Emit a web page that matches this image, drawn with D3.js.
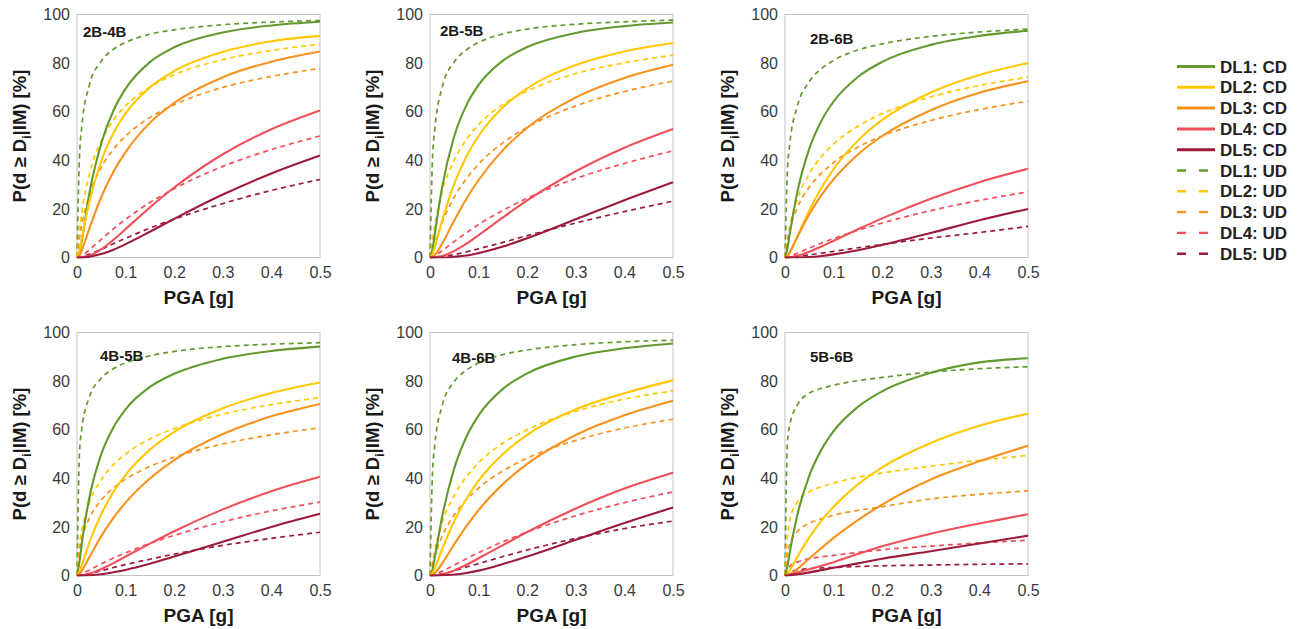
<!DOCTYPE html>
<html>
<head>
<meta charset="utf-8">
<script src="https://cdn.jsdelivr.net/npm/d3@7/dist/d3.min.js"></script>
<style>
  html, body { margin: 0; padding: 0; background: #fff; }
  svg { display: block; font-family: "Liberation Sans", Arial, sans-serif; }
</style>
</head>
<body>
<svg id="chart" width="1302" height="629"></svg>
<script>
// PGA sample points [g]
const pga = [0, 0.005, 0.01, 0.025, 0.05, 0.075, 0.1, 0.15, 0.2, 0.3, 0.4, 0.5];

const damageLevels = ["DL1", "DL2", "DL3", "DL4", "DL5"];
const levelColors = ["#639a30", "#ffc800", "#f7921e", "#f0505a", "#9c1b3d"];
const panelNames = ["2B-4B", "2B-5B", "2B-6B", "4B-5B", "4B-6B", "5B-6B"];
const xTicks = [0, 0.1, 0.2, 0.3, 0.4, 0.5];
const yTicks = [0, 20, 40, 60, 80, 100];

// Exceedance probability [%] per damage level, CD (solid) and UD (dashed)
const cd_2B4B = [
  [0, 2, 7, 26, 47, 60.5, 69.5, 80.4, 86.5, 92.6, 95.5, 97],
  [0, 2.8, 7.9, 22.5, 39.7, 51.2, 59.3, 70, 76.7, 84.6, 89, 91.2],
  [0, 0.9, 3.1, 11.7, 24.9, 35.3, 43.4, 55.4, 63.6, 74.2, 80.6, 84.8],
  [0, 0, 0.1, 0.7, 3.4, 7.3, 11.7, 20.6, 28.8, 42.5, 52.8, 60.5],
  [0, 0, 0, 0.3, 1.4, 3.2, 5.5, 10.6, 15.9, 25.9, 34.6, 42]
];
const ud_2B4B = [
  [0, 41, 54, 70.6, 80.8, 85.7, 88.5, 91.9, 93.7, 95.8, 96.9, 97.5],
  [0, 10.3, 18.5, 33.9, 48, 56.5, 62.4, 70.1, 75.2, 81.4, 85.2, 87.7],
  [0, 7.7, 13.6, 25.5, 37.1, 44.6, 50, 57.6, 62.9, 70, 74.5, 77.8],
  [0, 0.2, 0.7, 3.1, 7.5, 11.8, 15.7, 22.6, 28.3, 37.5, 44.4, 50],
  [0, 0.1, 0.3, 1.3, 3.4, 5.7, 7.9, 12.1, 15.8, 22.2, 27.6, 32.1]
];
const cd_2B5B = [
  [0, 3.3, 9.9, 29, 50, 62.7, 71, 81, 86.6, 92.4, 95.2, 96.7],
  [0, 1.3, 4.4, 15.2, 30.4, 41.6, 50, 61.8, 69.6, 79.2, 84.8, 88.3],
  [0, 0.2, 1, 5.7, 15.3, 24.2, 31.9, 44.2, 53.4, 65.9, 73.9, 79.3],
  [0, 0, 0.1, 0.6, 2.7, 5.7, 9.2, 16.5, 23.5, 35.5, 45.2, 52.9],
  [0, 0, 0, 0, 0.3, 0.8, 1.8, 4.5, 7.9, 15.7, 23.6, 31]
];
const ud_2B5B = [
  [0, 40, 53, 70, 80.5, 85.5, 88.5, 92, 94, 96, 97, 97.7],
  [0, 7.2, 13.7, 27, 40.2, 48.6, 54.7, 63, 68.5, 75.7, 80.1, 83.3],
  [0, 2.5, 5.8, 14.3, 24.8, 32.5, 38.4, 47.2, 53.6, 62.4, 68.3, 72.6],
  [0, 0.2, 0.7, 2.8, 6.6, 10.2, 13.6, 19.4, 24.4, 32.5, 38.7, 43.9],
  [0, 0, 0, 0.3, 1.2, 2.3, 3.6, 6.2, 9, 14.2, 18.9, 23.2]
];
const cd_2B6B = [
  [0, 3.8, 10, 26.6, 44.8, 56.3, 64.2, 74.3, 80.5, 87.5, 91.2, 93.3],
  [0, 0.5, 2, 8.5, 19.4, 28.7, 36.4, 48.1, 56.6, 67.9, 75.1, 80],
  [0, 0.7, 2.3, 8.3, 17.8, 25.7, 32.2, 42.4, 50, 60.6, 67.8, 72.5],
  [0, 0, 0.1, 0.7, 2.4, 4.5, 6.9, 11.6, 16.1, 24.2, 31, 36.5],
  [0, 0, 0, 0, 0.2, 0.65, 1.3, 3, 5.2, 10.1, 15.3, 20]
];
const ud_2B6B = [
  [0, 35.8, 47, 62, 72.4, 77.7, 81.1, 85.4, 87.9, 91, 92.8, 94],
  [0, 7.4, 12.9, 23.8, 34.5, 41.5, 46.7, 54, 59.2, 66.1, 70.8, 74.2],
  [0, 7, 11.5, 20.3, 29, 34.7, 39.1, 45.4, 50, 56.4, 60.9, 64.3],
  [0, 0.2, 0.5, 1.7, 3.9, 5.9, 7.8, 11.2, 14.2, 19.3, 23.5, 27],
  [0, 0, 0.1, 0.4, 1.1, 1.8, 2.5, 4, 5.4, 8, 10.3, 12.8]
];
const cd_4B5B = [
  [0, 5.6, 13.4, 31.6, 50, 61, 68.4, 77.6, 83, 89.2, 92.4, 94.2],
  [0, 1.6, 4.4, 13.3, 25.3, 34.4, 41.4, 51.8, 59.1, 68.8, 75.1, 79.4],
  [0, 0.6, 2, 7.4, 16.2, 23.7, 30, 39.9, 47.5, 58.2, 65.5, 70.6],
  [0, 0, 0.1, 0.7, 2.7, 5.1, 7.8, 13.1, 18.2, 27.2, 34.7, 40.6],
  [0, 0, 0, 0.1, 0.5, 1.3, 2.3, 4.8, 7.8, 13.9, 20, 25.4]
];
const ud_4B5B = [
  [0, 50, 60.5, 73.2, 81.2, 85.1, 87.5, 90.4, 92.2, 94.2, 95.2, 95.8],
  [0, 12.5, 18.8, 29.7, 39.5, 45.6, 50, 56.2, 60.5, 66.4, 70.3, 73.2],
  [0, 10.4, 15.1, 23.4, 31.1, 36, 39.6, 44.9, 48.7, 54.1, 57.9, 60.8],
  [0, 0.2, 0.7, 2.2, 4.8, 7.2, 9.3, 13.2, 16.5, 22.1, 26.6, 30.2],
  [0, 0, 0.2, 0.8, 2, 3.3, 4.5, 6.7, 8.8, 12.4, 15.3, 17.8]
];
const cd_4B6B = [
  [0, 2.3, 7.6, 24.2, 44.2, 57.1, 65.9, 76.8, 83.2, 90.1, 93.5, 95.5],
  [0, 1, 3.1, 10.8, 22.4, 31.6, 39, 50, 57.9, 68.4, 75, 80.3],
  [0, 0.2, 1, 5, 12.9, 20.3, 26.9, 37.6, 45.9, 57.8, 65.9, 71.9],
  [0, 0, 0, 0.5, 2.1, 4.4, 7.1, 12.5, 17.9, 27.6, 35.8, 42.3],
  [0, 0, 0, 0.1, 0.4, 1.05, 2, 4.7, 7.8, 14.7, 21.6, 28]
];
const ud_4B6B = [
  [0, 41.5, 54, 69.8, 79.8, 84.5, 87.5, 90.9, 92.8, 95, 96.2, 96.8],
  [0, 5.6, 10.7, 21.7, 33.1, 40.7, 46.4, 54.4, 60, 67.6, 72.6, 76],
  [0, 4.3, 8, 16.1, 25, 31.2, 36, 43.1, 48.3, 55.6, 60.7, 64.3],
  [0, 0.1, 0.4, 1.8, 4.3, 6.9, 9.4, 13.9, 17.9, 24.6, 30, 34.4],
  [0, 0, 0.1, 0.7, 2, 3.5, 4.9, 7.8, 10.5, 15.3, 19.3, 22.4]
];
const cd_5B6B = [
  [0, 3.9, 9.7, 24.6, 41.1, 51.8, 59.4, 69.4, 75.8, 83.4, 87.7, 89.4],
  [0, 0.7, 2.2, 7.5, 15.7, 22.6, 28.3, 37.5, 44.5, 54.5, 61.6, 66.6],
  [0, 0.2, 0.5, 2.6, 7, 11.3, 15.5, 22.8, 29.2, 39.5, 47, 53.4],
  [0, 0.1, 0.4, 1.2, 2.6, 4, 5.5, 8.8, 12, 17.2, 21.4, 25.2],
  [0, 0, 0.1, 0.5, 1.3, 2.2, 3.2, 5, 6.9, 10, 13.2, 16.4]
];
const ud_5B6B = [
  [0, 55, 62, 70, 75, 77, 78.3, 80.2, 81.5, 83.7, 85.1, 85.9],
  [0, 16, 23, 30, 34.5, 36.5, 38, 40.5, 42.2, 45, 47.4, 49.4],
  [0, 9, 13, 18, 21.5, 23.3, 24.8, 26.8, 28.3, 31.5, 33.4, 34.8],
  [0, 2.5, 3.8, 5.5, 6.9, 7.7, 8.3, 9.5, 10.6, 12.1, 13.4, 14.5],
  [0, 1, 1.5, 2.2, 2.8, 3.1, 3.3, 3.7, 4, 4.3, 4.6, 4.8]
];

const panelCD = [cd_2B4B, cd_2B5B, cd_2B6B, cd_4B5B, cd_4B6B, cd_5B6B];
const panelUD = [ud_2B4B, ud_2B5B, ud_2B6B, ud_4B5B, ud_4B6B, ud_5B6B];

// Layout of the 2x3 grid of plot areas
const plotW = 243, plotH = 243;
const colLeft = [77, 430, 785];
const rowTop = [14.5, 332.5];
// Offsets of the panel name inside each plot area
const nameOffset = [[6, 22], [10, 21], [25, 29], [23, 28], [22, 30], [25, 29]];

const svg = d3.select("#chart");
const defs = svg.append("defs");

const x = d3.scaleLinear().domain([0, 0.5]).range([0, plotW]);
const y = d3.scaleLinear().domain([0, 100]).range([plotH, 0]);
const line = d3.line()
  .x((d, i) => x(pga[i]))
  .y(d => y(d))
  .curve(d3.curveMonotoneX);

panelNames.forEach((name, p) => {
  const left = colLeft[p % 3], top = rowTop[Math.floor(p / 3)];
  const g = svg.append("g").attr("transform", `translate(${left},${top})`);

  defs.append("clipPath").attr("id", "clip" + p)
    .append("rect").attr("x", -1).attr("y", -1).attr("width", plotW + 2).attr("height", plotH + 2);

  // frame
  g.append("rect")
    .attr("width", plotW).attr("height", plotH)
    .attr("fill", "#fff").attr("stroke", "#c4c4c4").attr("stroke-width", 1);

  // axes (labels only, the frame carries the lines)
  const xAxis = g.append("g").attr("transform", `translate(0,${plotH})`)
    .call(d3.axisBottom(x).tickValues(xTicks).tickSize(0).tickPadding(9)
      .tickFormat(d => d === 0 ? "0" : d3.format(".1f")(d)));
  const yAxis = g.append("g")
    .call(d3.axisLeft(y).tickValues(yTicks).tickSize(0).tickPadding(7));
  [xAxis, yAxis].forEach(a => {
    a.select(".domain").remove();
    a.selectAll("text").attr("font-size", 16).attr("fill", "#3a3a3a")
      .attr("font-family", "Liberation Sans, Arial, sans-serif");
  });

  // curves
  const curves = g.append("g").attr("clip-path", `url(#clip${p})`);
  panelUD[p].forEach((vals, k) => {
    curves.append("path").datum(vals)
      .attr("d", line).attr("fill", "none")
      .attr("stroke", levelColors[k]).attr("stroke-width", 1.7)
      .attr("stroke-dasharray", "5,4");
  });
  panelCD[p].forEach((vals, k) => {
    curves.append("path").datum(vals)
      .attr("d", line).attr("fill", "none")
      .attr("stroke", levelColors[k]).attr("stroke-width", 2.1);
  });

  // panel name
  g.append("text")
    .attr("x", nameOffset[p][0]).attr("y", nameOffset[p][1])
    .attr("font-size", 15).attr("font-weight", "bold").attr("fill", "#1a1a1a")
    .text(name);

  // axis titles
  g.append("text")
    .attr("x", plotW / 2).attr("y", plotH + 46)
    .attr("text-anchor", "middle").attr("font-size", 19).attr("font-weight", "bold")
    .attr("fill", "#1a1a1a").text("PGA [g]");

  const yt = g.append("text")
    .attr("transform", `translate(-51,${plotH / 2}) rotate(-90)`)
    .attr("text-anchor", "middle").attr("font-size", 18.5).attr("font-weight", "bold")
    .attr("fill", "#1a1a1a");
  yt.append("tspan").text("P(d \u2265 D");
  yt.append("tspan").attr("font-size", 12).attr("dy", 5).text("i");
  yt.append("tspan").attr("dy", -5).text("|IM) [%]");
});

// legend
const legend = svg.append("g").attr("transform", "translate(1177,66.5)");
const legendItems = [];
damageLevels.forEach((dl, k) => legendItems.push({ label: dl + ": CD", color: levelColors[k], dashed: false }));
damageLevels.forEach((dl, k) => legendItems.push({ label: dl + ": UD", color: levelColors[k], dashed: true }));
legendItems.forEach((it, i) => {
  const row = legend.append("g").attr("transform", `translate(0,${i * 20.8})`);
  row.append("line")
    .attr("x1", 0).attr("x2", it.dashed ? 33 : 38)
    .attr("y1", 0).attr("y2", 0)
    .attr("stroke", it.color).attr("stroke-width", it.dashed ? 2.4 : 3)
    .attr("stroke-dasharray", it.dashed ? "9,13" : null);
  row.append("text")
    .attr("x", 43).attr("y", 6)
    .attr("font-size", 17).attr("font-weight", "bold").attr("fill", "#222")
    .text(it.label);
});
</script>
</body>
</html>
